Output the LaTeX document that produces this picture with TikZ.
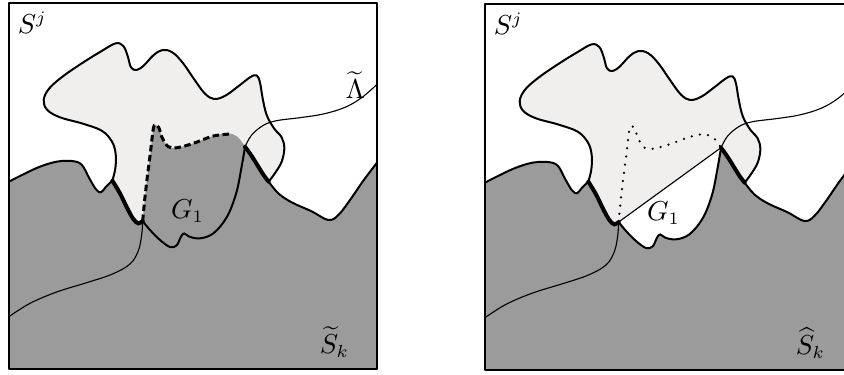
\documentclass[tikz,border=0pt]{standalone}
\usepackage{amsmath}
\definecolor{skgray}{RGB}{155,155,155}
\definecolor{blobfill}{RGB}{241,238,238}
\def\GLpts{(27,545) (70,523) (120,500) (170,485) (215,483) (245,494) (268,535) (288,568) (303,577) (318,560) (337,542)}
\def\Tone{(337,542) (360,580) (382,625) (400,657) (415,670) (428,663)}
\def\Lpts{(428,663) (450,690) (480,720) (510,741) (530,736) (542,712) (552,700) (568,710) (600,715) (640,700) (680,652) (708,582) (724,505) (735,440)}
\def\Dpts{(428,663) (434,600) (442,530) (451,460) (458,400) (463,376) (476,382) (486,412) (505,440) (532,443) (580,430) (640,408) (682,400) (712,410) (735,440)}
\def\Dstroke{(428,663) (434,600) (442,530) (451,460) (458,400) (463,376) (476,382) (486,412) (505,440) (532,443) (580,430) (640,408) (695,402)}
\def\Ttwo{(735,440) (755,468) (775,500) (792,527) (806,545)}
\def\GRpts{(806,545) (835,580) (875,607) (935,634) (985,660) (1015,645) (1050,600) (1090,542) (1131,488)}
\def\Bpts{(337,542) (346,505) (347,462) (336,425) (305,392) (245,370) (180,352) (142,330) (131,300) (148,265) (190,228) (250,187) (305,153) (347,130) (370,138) (383,168) (393,202) (410,210) (432,196) (460,166) (487,150) (517,157) (548,188) (582,237) (614,280) (642,297) (676,287) (716,258) (750,232) (770,226) (780,248) (788,295) (800,345) (822,385) (845,412) (853,445) (845,485) (826,518) (806,545)}
\def\LLpts{(27,950) (90,910) (170,876) (260,848) (335,823) (390,792) (415,752) (425,705) (428,663)}
\def\LRpts{(735,440) (755,405) (790,376) (830,362) (900,353) (970,342) (1035,322) (1085,293) (1131,253)}
\begin{document}
\begin{tikzpicture}[x={(0.13333pt,0)}, y={(0,-0.13333pt)},
  edge/.style={line width=0.8pt, line join=round},
  thickedge/.style={line width=1.6pt, line cap=round},
  thinedge/.style={line width=0.45pt},
  dashedge/.style={line width=1.2pt, dash pattern=on 2.6pt off 1.4pt},
  dotedge/.style={line width=1pt, line cap=round, dash pattern=on 0pt off 3.3pt},
  lbl/.style={font=\fontsize{10.5}{12}\selectfont, inner sep=0pt, anchor=base west},
  sm/.style={smooth, tension=0.6}]
\useasboundingbox (0,0) rectangle (2532,1122);
% ---------- left panel ----------
\begin{scope}
  \clip (27,9) rectangle (1131,1107);
  \fill[blobfill] plot[sm] coordinates {\Bpts} -- (806,820) -- (337,820) -- cycle;
  \fill[skgray] (27,1107) -- (27,545) -- plot[sm] coordinates {\GLpts}
     -- plot[sm] coordinates {\Tone} -- plot[sm] coordinates {\Dpts}
     -- plot[sm] coordinates {\Ttwo} -- plot[sm] coordinates {\GRpts}
     -- (1131,1107) -- cycle;
  \draw[edge] plot[sm] coordinates {\Bpts};
  \draw[edge] plot[sm] coordinates {\GLpts};
  \draw[edge] plot[sm] coordinates {\GRpts};
  \draw[edge] plot[sm] coordinates {\Lpts};
  \draw[thickedge] plot[sm] coordinates {\Tone};
  \draw[thickedge] plot[sm] coordinates {\Ttwo};
  \draw[thinedge] plot[sm] coordinates {\LLpts};
  \draw[thinedge] plot[sm] coordinates {\LRpts};
  \draw[dashedge] plot[sm] coordinates {\Dstroke};
\end{scope}
\draw[edge] (27,9) rectangle (1131,1107);
\node[lbl] (sjL) at (52,99) {$S^j$};
\node[lbl] (lam) at (1036,295) {$\widetilde{\Lambda}$};
\node[lbl] (gL) at (512,655) {$G_1$};
\node[lbl] (skL) at (958,1060) {$\widetilde{S}_k$};
% ---------- right panel (cut off by the page edge, as in the reference) ----------
\begin{scope}[shift={(1428,3)}]
  \begin{scope}
    \clip (27,9) rectangle (1131,1107);
    \fill[blobfill] plot[sm] coordinates {\Bpts} -- (806,820) -- (337,820) -- cycle;
    \fill[skgray] (27,1107) -- (27,545) -- plot[sm] coordinates {\GLpts}
       -- plot[sm] coordinates {\Tone} -- plot[sm] coordinates {\Lpts}
       -- plot[sm] coordinates {\Ttwo} -- plot[sm] coordinates {\GRpts}
       -- (1131,1107) -- cycle;
    \fill[white] plot[sm] coordinates {\Lpts} -- cycle;
    \coordinate (J1) at (428,663);
    \coordinate (J2) at (735,440);
    \draw[edge] plot[sm] coordinates {\Bpts};
    \draw[edge] plot[sm] coordinates {\GLpts};
    \draw[edge] plot[sm] coordinates {\GRpts};
    \draw[edge] plot[sm] coordinates {\Lpts};
    \draw[thickedge] plot[sm] coordinates {\Tone};
    \draw[thickedge] plot[sm] coordinates {\Ttwo};
    \draw[thinedge] plot[sm] coordinates {\LLpts};
    \draw[thinedge] plot[sm] coordinates {\LRpts};
    \draw[thinedge] (J1) -- (J2);
    \draw[dotedge] plot[sm] coordinates {\Dpts};
  \end{scope}
  \draw[edge] (27,9) rectangle (1131,1107);
  \node[lbl] (sjR) at (52,99) {$S^j$};
  \node[lbl] (gR) at (512,658) {$G_1$};
  \node[lbl] (skR) at (958,1060) {$\widehat{S}_k$};
\end{scope}
\end{tikzpicture}
\end{document}
